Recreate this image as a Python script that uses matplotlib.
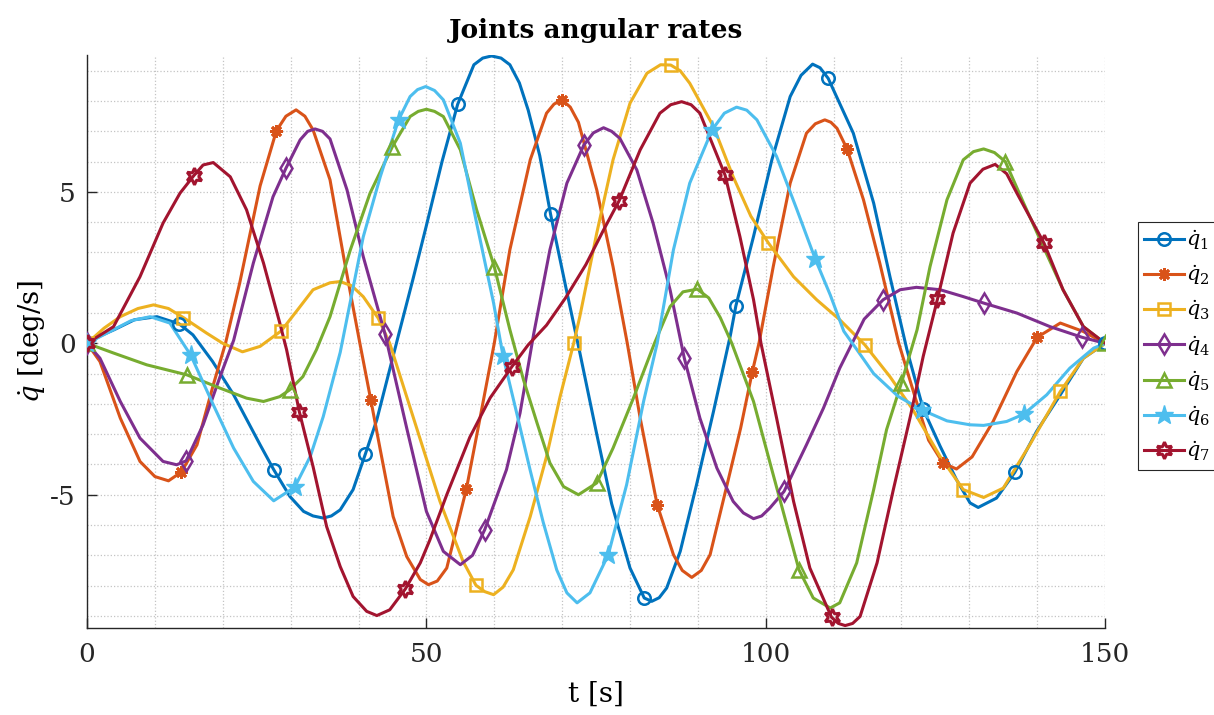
import matplotlib
matplotlib.use('Agg')
import matplotlib.pyplot as plt
from matplotlib.lines import Line2D
from matplotlib.ticker import MultipleLocator

plt.rcParams['font.family'] = 'serif'
plt.rcParams['font.serif'] = ['DejaVu Serif']
plt.rcParams['mathtext.fontset'] = 'dejavuserif'
plt.rcParams['axes.unicode_minus'] = False

# ---------- data (t [s], q_dot [deg/s]) ----------
t1 = [0, 2, 4, 7, 10.3, 13.6, 15.6, 18.5, 21.6, 25.5, 27.5, 29.9, 31.9, 33.3, 34.8, 36.0, 37.3, 39.2,
      41.0, 42.7, 45.9, 48.0, 50.0, 52.3, 54.6, 57.0, 58.3, 59.6, 61.0, 62.3, 63.7, 65.0, 66.7, 68.3,
      70.5, 72.6, 75.1, 77.3, 80.0, 82.1, 83.2, 84.3, 85.4, 87.4, 89.8, 92.3, 94.8, 95.6, 98.2, 100.9,
      103.6, 105.2, 106.9, 108.0, 109.2, 112.9, 115.9, 118.3, 120.8, 123.2, 125.7, 128.1, 130.1, 131.3,
      134.0, 136.7, 139.9, 143.4, 146.8, 150]
q1 = [0, 0.25, 0.45, 0.78, 0.88, 0.64, 0.28, -0.6, -1.7, -3.35, -4.17, -5.06, -5.55, -5.7, -5.77, -5.7,
      -5.5, -4.83, -3.66, -2.52, 0.28, 2.1, 3.89, 6.0, 7.89, 9.2, 9.42, 9.49, 9.42, 9.2, 8.6, 7.7, 6.2,
      4.26, 1.9, -0.3, -3.0, -5.3, -7.42, -8.41, -8.52, -8.4, -8.08, -6.87, -4.67, -2.25, 0.28, 1.24,
      3.53, 6.06, 8.15, 8.85, 9.22, 9.1, 8.75, 6.94, 4.63, 2.2, -0.21, -2.17, -3.4, -4.5, -5.27, -5.42,
      -5.11, -4.26, -2.91, -1.7, -0.49, 0]
m1_t = [0, 13.6, 27.5, 41.0, 54.6, 68.3, 82.1, 95.6, 109.2, 123.2, 136.7, 150]
m1_q = [0, 0.64, -4.17, -3.66, 7.89, 4.26, -8.41, 1.24, 8.75, -2.17, -4.26, 0]

t2 = [0, 1.9, 4.9, 7.8, 10.0, 12.0, 13.9, 16.2, 18.6, 20.4, 22.5, 25.5, 27.9, 29.3, 30.8, 32.1, 33.3,
      35.8, 37.8, 40.2, 41.8, 43.2, 45.1, 47.1, 49.1, 50.3, 51.6, 53.0, 55.9, 57.9, 60.0, 62.3, 65.3,
      67.7, 68.8, 70.0, 71.2, 72.4, 75.1, 77.5, 79.6, 81.5, 84.0, 86.4, 87.7, 89.1, 90.5, 91.8, 94.3,
      96.3, 98.0, 99.0, 101.1, 103.6, 106.0, 107.3, 108.7, 109.6, 110.5, 112.0, 114.4, 116.8, 119.6,
      122.2, 124.0, 126.1, 128.1, 130.4, 133.5, 137.0, 140.0, 143.4, 146.8, 150]
q2 = [0, -0.6, -2.47, -3.9, -4.4, -4.54, -4.25, -3.35, -1.37, 0.0, 2.0, 5.2, 7.02, 7.5, 7.71, 7.5, 7.05,
      5.4, 2.86, 0.0, -1.86, -3.51, -5.72, -7.04, -7.8, -7.97, -7.85, -7.42, -4.8, -2.47, 0.0, 3.09,
      6.06, 7.6, 7.9, 8.04, 7.8, 7.3, 5.07, 2.53, 0.0, -2.47, -5.33, -6.98, -7.5, -7.73, -7.5, -6.98,
      -4.67, -2.8, -0.96, 0.0, 2.53, 5.29, 6.94, 7.25, 7.38, 7.3, 7.1, 6.41, 4.74, 2.65, 0.0, -1.92,
      -3.2, -3.95, -4.15, -3.75, -2.58, -0.93, 0.2, 0.67, 0.39, 0]
m2_t = [0, 13.9, 27.9, 41.8, 55.9, 70.0, 84.0, 98.0, 112.0, 126.1, 140.0]
m2_q = [0, -4.25, 7.02, -1.86, -4.8, 8.04, -5.33, -0.96, 6.41, -3.95, 0.2]

t3 = [0, 2.5, 4.9, 7.5, 9.8, 12.0, 14.2, 17.6, 20.0, 22.9, 25.5, 28.6, 31.0, 33.3, 35.8, 37.3, 39.0,
      40.7, 42.9, 44.6, 48.1, 52.0, 55.4, 57.3, 58.6, 59.9, 61.3, 62.8, 65.3, 67.7, 69.7, 71.7, 72.6,
      75.1, 77.5, 80.0, 82.5, 84.5, 86.0, 87.4, 88.8, 92.3, 95.2, 97.8, 100.4, 104.1, 107.5, 110.9,
      114.6, 118.3, 121.7, 125.7, 129.1, 132.1, 135.0, 138.9, 143.4, 146.8, 150]
q3 = [0, 0.5, 0.88, 1.15, 1.27, 1.15, 0.85, 0.34, 0.0, -0.28, -0.1, 0.41, 1.1, 1.77, 2.0, 2.04, 1.9,
      1.54, 0.83, 0.0, -2.47, -5.22, -7.2, -7.99, -8.2, -8.3, -8.05, -7.48, -5.72, -3.74, -1.76, 0.0,
      0.88, 3.64, 6.06, 7.93, 8.92, 9.2, 9.19, 9.0, 8.59, 7.16, 5.5, 4.2, 3.31, 2.2, 1.44, 0.78, -0.05,
      -1.1, -2.2, -3.74, -4.83, -5.09, -4.78, -3.35, -1.59, -0.49, 0]
m3_t = [0, 14.2, 28.6, 42.9, 57.3, 71.7, 86.0, 100.4, 114.6, 129.1, 143.4]
m3_q = [0, 0.85, 0.41, 0.83, -7.99, 0.0, 9.19, 3.31, -0.05, -4.83, -1.59]

t4 = [0, 1.9, 4.9, 7.8, 11.2, 13.2, 14.6, 17.1, 19.6, 21.6, 24.5, 27.4, 29.3, 31.4, 32.5, 33.6, 34.7,
      35.8, 38.3, 40.7, 43.9, 47.1, 50.0, 52.5, 55.0, 56.8, 58.6, 61.8, 63.8, 65.8, 68.2, 70.7, 73.2,
      74.6, 76.1, 77.3, 78.5, 81.0, 83.4, 85.9, 88.0, 90.3, 92.8, 95.2, 96.7, 98.2, 99.4, 100.6, 102.7,
      106.0, 108.5, 110.9, 114.5, 117.3, 119.8, 122.2, 125.7, 129.0, 132.1, 137.0, 141.9, 146.6, 150]
q4 = [0, -0.49, -1.92, -3.13, -3.9, -4.01, -3.88, -2.69, -1.1, 0.1, 2.65, 4.84, 5.78, 6.72, 7.0, 7.08,
      7.0, 6.75, 5.07, 2.86, 0.31, -2.8, -5.55, -6.87, -7.31, -7.0, -6.15, -4.17, -2.3, 0.3, 3.09, 5.29,
      6.55, 6.95, 7.12, 7.0, 6.77, 5.73, 3.97, 1.77, -0.49, -2.47, -4.12, -5.22, -5.6, -5.79, -5.7,
      -5.44, -4.89, -3.35, -2.14, -0.82, 0.8, 1.44, 1.77, 1.85, 1.77, 1.55, 1.33, 1.0, 0.55, 0.2, 0]
m4_t = [0, 14.6, 29.3, 43.9, 58.6, 73.2, 88.0, 102.7, 117.3, 132.1, 146.6]
m4_q = [0, -3.88, 5.78, 0.31, -6.15, 6.55, -0.49, -4.89, 1.44, 1.33, 0.2]

t5 = [0, 3.9, 8.8, 14.7, 19.6, 23.5, 26.0, 28.4, 29.9, 31.8, 33.8, 35.8, 37.3, 38.8, 41.7, 45.0, 47.6,
      48.8, 50.0, 51.2, 52.5, 55.0, 57.4, 60.0, 62.3, 64.3, 66.3, 68.2, 70.2, 72.4, 75.1, 77.5, 80.5,
      83.6, 85.9, 87.8, 89.9, 91.6, 93.3, 95.0, 98.2, 101.1, 104.9, 107.0, 109.5, 110.9, 113.4, 115.9,
      117.8, 120.0, 122.3, 124.2, 126.7, 129.1, 130.6, 132.1, 133.7, 135.3, 138.0, 140.9, 143.8, 146.8, 150]
q5 = [0, -0.32, -0.71, -1.04, -1.48, -1.81, -1.92, -1.76, -1.53, -1.1, -0.21, 0.88, 1.99, 3.09, 4.96,
      6.5, 7.49, 7.66, 7.73, 7.66, 7.49, 6.39, 4.41, 2.53, 0.45, -1.2, -2.63, -3.95, -4.73, -5.0, -4.61,
      -3.46, -1.81, 0.0, 1.21, 1.7, 1.79, 1.5, 0.85, 0.0, -1.92, -4.34, -7.48, -8.41, -8.74, -8.57,
      -7.25, -4.83, -2.85, -1.3, 0.45, 2.53, 4.74, 6.06, 6.33, 6.42, 6.3, 6.0, 4.63, 3.19, 1.77, 0.55, 0]
m5_t = [0, 14.7, 29.9, 45.0, 60.0, 75.1, 89.9, 104.9, 120.0, 135.3, 150]
m5_q = [0, -1.04, -1.53, 6.5, 2.53, -4.61, 1.79, -7.48, -1.3, 6.0, 0]

t6 = [0, 3.9, 6.5, 9.3, 12.2, 15.3, 18.6, 21.6, 24.5, 27.5, 30.6, 32.9, 34.8, 37.3, 40.7, 43.2, 45.9,
      47.6, 48.7, 49.9, 51.2, 52.5, 55.0, 57.4, 59.9, 61.3, 63.3, 65.3, 67.2, 69.2, 70.7, 72.2, 74.1,
      76.8, 79.5, 82.0, 84.0, 86.4, 88.8, 92.1, 93.9, 95.7, 97.2, 98.7, 101.6, 104.6, 107.3, 109.5,
      111.5, 113.4, 115.9, 119.5, 123.0, 126.7, 130.1, 132.1, 135.5, 138.0, 141.4, 144.8, 148.3, 150]
q6 = [0, 0.45, 0.75, 0.88, 0.67, -0.4, -2.03, -3.46, -4.56, -5.2, -4.75, -3.73, -2.42, -0.3, 3.52, 5.5,
      7.38, 8.15, 8.38, 8.48, 8.35, 8.04, 6.61, 3.97, 1.33, -0.43, -2.3, -4.2, -5.9, -7.48, -8.24, -8.57,
      -8.24, -6.98, -4.67, -1.92, 0.0, 3.09, 5.29, 7.05, 7.6, 7.8, 7.7, 7.38, 6.17, 4.41, 2.78, 1.6, 0.4,
      -0.2, -1.0, -1.75, -2.2, -2.56, -2.69, -2.71, -2.58, -2.34, -1.7, -0.82, -0.16, 0]
m6_t = [0, 15.3, 30.6, 45.9, 61.3, 76.8, 92.1, 107.3, 123.0, 138.0]
m6_q = [0, -0.4, -4.75, 7.38, -0.43, -6.98, 7.05, 2.78, -2.2, -2.34]

t7 = [0, 3.9, 7.8, 11.2, 13.7, 15.7, 17.1, 18.6, 21.1, 23.5, 26.0, 28.4, 29.4, 31.3, 33.3, 35.3, 37.3,
      39.2, 41.2, 42.7, 44.6, 46.9, 49.1, 50.5, 53.0, 56.4, 59.4, 62.6, 65.0, 67.7, 70.5, 73.5, 76.0,
      78.4, 81.5, 84.4, 86.0, 87.6, 89.0, 90.3, 94.0, 96.2, 98.2, 99.3, 101.6, 104.1, 106.5, 109.7,
      110.7, 111.7, 112.8, 113.9, 116.4, 118.8, 121.3, 123.2, 125.3, 127.6, 130.1, 132.0, 133.8, 135.5,
      137.0, 141.0, 143.8, 146.8, 150]
q7 = [0, 0.55, 2.2, 3.97, 4.96, 5.53, 5.89, 5.97, 5.5, 4.41, 2.65, 0.67, -0.21, -2.28, -4.07, -6.05,
      -7.37, -8.36, -8.85, -8.99, -8.8, -8.11, -7.25, -6.5, -5.0, -3.1, -1.8, -0.77, -0.05, 0.6, 1.5,
      2.6, 3.7, 4.71, 6.39, 7.6, 7.88, 7.98, 7.88, 7.6, 5.56, 3.52, 1.44, 0.0, -2.47, -5.22, -7.42,
      -9.05, -9.25, -9.32, -9.25, -9.02, -7.25, -4.83, -2.42, -0.43, 1.46, 3.64, 5.29, 5.75, 5.91, 5.6,
      4.96, 3.31, 1.77, 0.55, 0]
m7_t = [0, 15.7, 31.3, 46.9, 62.6, 78.4, 94.0, 109.7, 125.3, 141.0]
m7_q = [0, 5.53, -2.28, -8.11, -0.77, 4.71, 5.56, -9.05, 1.46, 3.31]

labels = [r'$\dot{q}_1$', r'$\dot{q}_2$', r'$\dot{q}_3$', r'$\dot{q}_4$',
          r'$\dot{q}_5$', r'$\dot{q}_6$', r'$\dot{q}_7$']

# ---------- styles (MATLAB default colour order) ----------
colors = ['#0072BD', '#D95319', '#EDB120', '#7E2F8E', '#77AC30', '#4DBEEE', '#A2142F']
styles = [
    dict(marker='o', ms=9, mfc='none', mew=1.8),
    dict(marker=(8, 2, 0), ms=9, mfc='none', mew=2.0),
    dict(marker='s', ms=8.5, mfc='none', mew=1.8),
    dict(marker='d', ms=10, mfc='none', mew=1.8),
    dict(marker='^', ms=10, mfc='none', mew=1.8),
    dict(marker='*', ms=14, mew=1.0),
    dict(marker=(6, 1, 0), ms=12, mfc='none', mew=2.2),
]

series = [(t1, q1, m1_t, m1_q), (t2, q2, m2_t, m2_q), (t3, q3, m3_t, m3_q),
          (t4, q4, m4_t, m4_q), (t5, q5, m5_t, m5_q), (t6, q6, m6_t, m6_q),
          (t7, q7, m7_t, m7_q)]

fig = plt.figure(figsize=(12.14, 7.15), dpi=100)
ax = fig.add_axes([0.0717, 0.1217, 0.8386, 0.8013])

handles = []
for (t, q, mt, mq), c, st, lab in zip(series, colors, styles, labels):
    ax.plot(t, q, color=c, lw=2.2, solid_joinstyle='round', solid_capstyle='round', zorder=2)
    ax.plot(mt, mq, linestyle='none', color=c, mec=c, zorder=3, **st)
    handles.append(Line2D([], [], color=c, lw=2.2, mec=c, label=lab, **st))

ax.set_xlim(0, 150)
ax.set_ylim(-9.4, 9.52)
ax.set_xticks([0, 50, 100, 150])
ax.set_yticks([-5, 0, 5])
ax.xaxis.set_minor_locator(MultipleLocator(10))
ax.yaxis.set_minor_locator(MultipleLocator(1))
ax.grid(True, which='both', linestyle=':', color='#c4c4c4', linewidth=0.9)
ax.set_axisbelow(True)
ax.tick_params(which='major', direction='in', length=7, width=1.0, labelsize=19, colors='#262626')
ax.tick_params(which='minor', length=0)
ax.tick_params(axis='x', pad=10)
ax.tick_params(axis='y', pad=8)
for s in ['top', 'right']:
    ax.spines[s].set_visible(False)
for s in ['left', 'bottom']:
    ax.spines[s].set_color('#262626')
    ax.spines[s].set_linewidth(1.0)

ax.set_title('Joints angular rates', fontsize=19, fontweight='bold', pad=12)
ax.set_xlabel('t [s]', fontsize=20, labelpad=10)
ax.set_ylabel(r'$\dot{q}$ [deg/s]', fontsize=20, labelpad=2)

leg = fig.legend(handles=handles, loc='upper left', bbox_to_anchor=(1138 / 1214, 1 - 222 / 715),
                 fontsize=15, frameon=True, fancybox=False, edgecolor='#262626', framealpha=1,
                 handlelength=1.9, handletextpad=0.1, labelspacing=0.55, borderpad=0.3,
                 borderaxespad=0)
leg.get_frame().set_linewidth(0.8)

fig.savefig('out.png', dpi=100)
